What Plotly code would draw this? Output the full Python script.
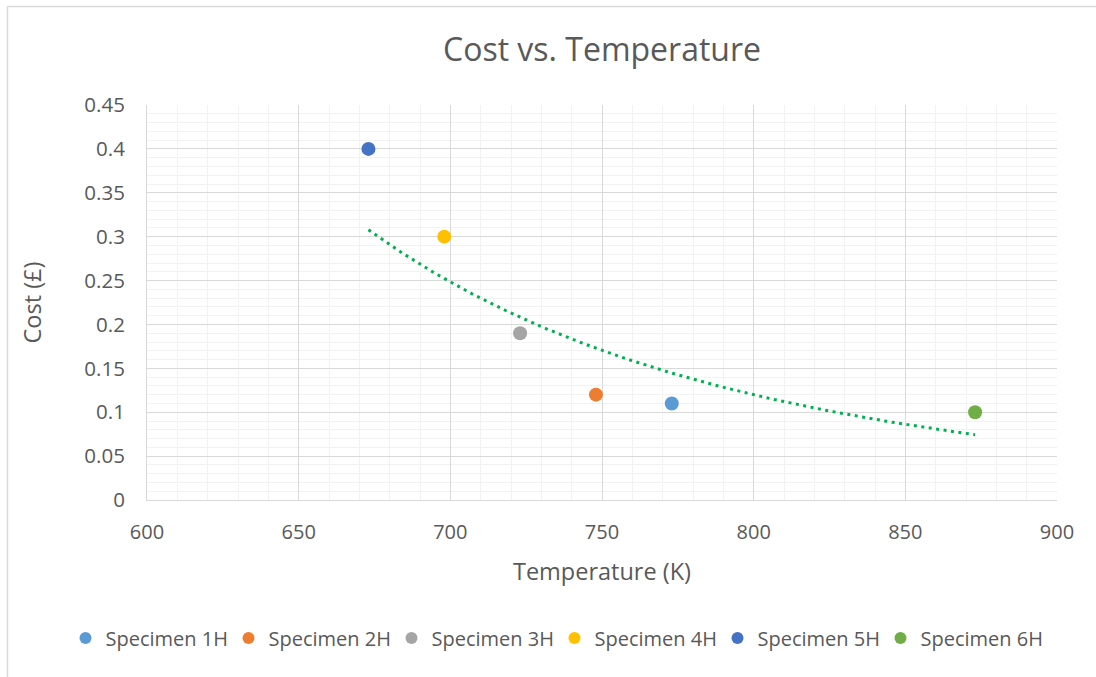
import numpy as np
import plotly.graph_objects as go

names = ["Specimen 1H", "Specimen 2H", "Specimen 3H", "Specimen 4H", "Specimen 5H", "Specimen 6H"]
temps = [773, 748, 723, 698, 673, 873]
costs = [0.11, 0.12, 0.19, 0.30, 0.40, 0.10]
colors = ["#5B9BD5", "#ED7D31", "#A5A5A5", "#FFC000", "#4472C4", "#70AD47"]

FONT = "Open Sans"
TXT = "#595959"

fig = go.Figure()
for n, t, c, col in zip(names, temps, costs, colors):
    fig.add_trace(go.Scatter(x=[t], y=[c], mode="markers", name=n,
                             marker=dict(color=col, size=14, line=dict(width=0))))

# Power trendline (least-squares fit on log-log, as Excel does)
lx = np.log(np.array(temps, float))
ly = np.log(np.array(costs, float))
b, a = np.polyfit(lx, ly, 1)
xt = np.linspace(min(temps), max(temps), 200)
yt = np.exp(a) * xt ** b
fig.add_trace(go.Scatter(x=xt, y=yt, mode="lines", showlegend=False, hoverinfo="skip",
                         line=dict(color="#00B050", width=3, dash="3px,4.5px")))

fig.update_layout(
    width=1096, height=677,
    paper_bgcolor="white", plot_bgcolor="white",
    margin=dict(l=147, r=39, t=105, b=177, autoexpand=False),
    font=dict(family=FONT, color=TXT, size=19),
    title=dict(text="Cost vs. Temperature", x=0.5, xanchor="center", xref="paper",
               y=1 - 50 / 677, yanchor="middle", font=dict(size=32, color=TXT)),
    showlegend=True,
    legend=dict(orientation="h", xref="paper", yref="paper",
                x=(65.5 - 147) / 910, xanchor="left", y=(500 - 638) / 395, yanchor="middle",
                font=dict(size=20, color=TXT), itemsizing="constant", itemwidth=30,
                entrywidth=118, entrywidthmode="pixels",
                tracegroupgap=0, traceorder="normal"),
)
fig.update_xaxes(range=[600, 900], dtick=50, tick0=600, showgrid=True, gridcolor="#D9D9D9",
                 gridwidth=1, zeroline=False, showline=True, linecolor="#D9D9D9", mirror=False,
                 ticks="", tickfont=dict(size=20, color=TXT), ticklabelstandoff=14,
                 minor=dict(dtick=10, showgrid=True, gridcolor="#F2F2F2", gridwidth=1),
                 title=dict(text="Temperature (K)", font=dict(size=23.5, color=TXT), standoff=19))
fig.update_yaxes(range=[0, 0.45], dtick=0.05, tick0=0, showgrid=True, gridcolor="#D9D9D9",
                 gridwidth=1, zeroline=False, showline=True, linecolor="#D9D9D9",
                 ticks="", tickfont=dict(size=20.5, color=TXT), tickformat="~g",
                 ticklabelstandoff=17,
                 minor=dict(dtick=0.01, showgrid=True, gridcolor="#F2F2F2", gridwidth=1),
                 title=dict(text="Cost (£)", font=dict(size=23.5, color=TXT), standoff=36))

# chart-area border (left and top edges visible)
yb = (677 - 177 - 6.5) / 395
xb = (7.5 - 147) / 910
fig.add_shape(type="line", xref="paper", yref="paper", x0=xb, x1=xb, y0=-0.5, y1=yb,
              line=dict(color="#D9D9D9", width=1.5))
fig.add_shape(type="line", xref="paper", yref="paper", x0=xb, x1=1.1, y0=yb, y1=yb,
              line=dict(color="#D9D9D9", width=1.5))

fig.write_html("out.html", config={"displayModeBar": False})
